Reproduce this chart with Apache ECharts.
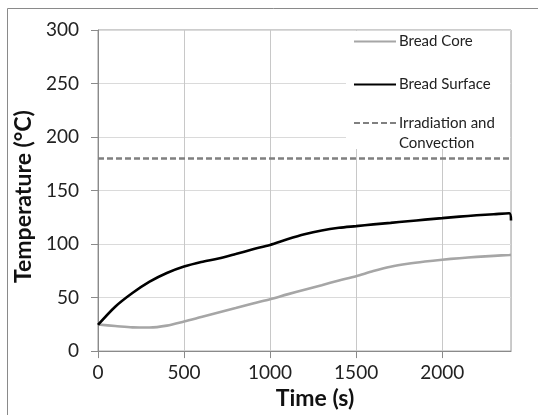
<!DOCTYPE html>
<html>
<head>
<meta charset="utf-8">
<script src="https://cdn.jsdelivr.net/npm/echarts@6/dist/echarts.min.js"></script>
<style>
  html, body { margin: 0; padding: 0; background: #fff; }
  #chart { width: 538px; height: 415px; }
</style>
</head>
<body>
<div id="chart"></div>
<script>
// time (s)
const timeS = [0, 100, 200, 300, 400, 500, 600, 700, 800, 900, 1000, 1100, 1200,
  1300, 1400, 1500, 1600, 1700, 1800, 1900, 2000, 2100, 2200, 2300, 2390, 2400];
// temperatures (°C)
const breadCore = [24.8, 23.5, 22.2, 22.0, 23.8, 27.6, 31.8, 36.0, 40.2, 44.5, 48.5, 53.0, 57.3,
  61.6, 65.9, 70.0, 74.8, 78.8, 81.6, 83.7, 85.4, 86.8, 88.0, 89.0, 89.8, 89.9];
const breadSurface = [24.5, 41.5, 54.3, 64.9, 73.0, 79.0, 83.3, 86.5, 90.7, 95.1, 99.2, 104.4, 109.1,
  112.7, 115.2, 116.8, 118.4, 119.8, 121.3, 122.8, 124.2, 125.6, 126.9, 127.9, 128.8, 122.0];
const ovenTime = [0, 2400];
const ovenTemp = [180, 180];

const names = ['Bread Core', 'Bread Surface', 'Irradiation and Convection'];

const pairs = (xs, ys) => xs.map((x, i) => [x, ys[i]]);

const font = 'Lato, "Open Sans", sans-serif';
const chart = echarts.init(document.getElementById('chart'));

// one legend per entry so each row sits where the original has it
const legendBase = {
  orient: 'vertical',
  left: 353,
  itemWidth: 42,
  itemHeight: 12,
  itemGap: 0,
  padding: 0,
  itemStyle: { opacity: 0 },
  textStyle: { fontFamily: font, fontSize: 15, color: '#222', padding: [0, 0, 0, -2] }
};

chart.setOption({
  animation: false,
  backgroundColor: '#fff',
  grid: { left: 98, right: 27, top: 30, bottom: 57, show: true, borderColor: '#9a9a9a', borderWidth: 1 },
  graphic: [
    {
      type: 'rect', z: 0, silent: true,
      shape: { x: 7.5, y: 8.5, width: 540, height: 420 },
      style: { fill: null, stroke: '#8a8a8a', lineWidth: 1 }
    },
    {
      type: 'rect', z: 3, silent: true,
      shape: { x: 346, y: 31, width: 164, height: 118 },
      style: { fill: '#fff' }
    }
  ],
  legend: [
    Object.assign({}, legendBase, { top: 34, data: [names[0]] }),
    Object.assign({}, legendBase, { top: 77, data: [names[1]] }),
    Object.assign({}, legendBase, {
      top: 93, data: [names[2]],
      formatter: () => '\nIrradiation and\nConvection',
      textStyle: Object.assign({}, legendBase.textStyle, { lineHeight: 20 })
    })
  ],
  xAxis: {
    type: 'value',
    min: 0,
    max: 2400,
    interval: 500,
    name: 'Time (s)',
    nameLocation: 'middle',
    nameGap: 28,
    nameTextStyle: { fontFamily: font, fontSize: 23, fontWeight: 'bold', color: '#111', padding: [0, 0, 0, 21] },
    axisLine: { lineStyle: { color: '#8a8a8a' } },
    axisTick: { show: true, length: 7, lineStyle: { color: '#8a8a8a' } },
    axisLabel: { fontFamily: font, fontSize: 19, color: '#222', margin: 12, showMaxLabel: false, formatter: v => String(v) },
    splitLine: { show: true, lineStyle: { color: '#c8c8c8' } }
  },
  yAxis: {
    type: 'value',
    min: 0,
    max: 300,
    interval: 50,
    name: 'Temperature (°C)',
    nameLocation: 'middle',
    nameGap: 55,
    nameTextStyle: { fontFamily: font, fontSize: 23, fontWeight: 'bold', color: '#111', padding: [0, 12, 0, 0] },
    axisLine: { show: true, lineStyle: { color: '#8a8a8a' } },
    axisTick: { show: true, length: 7, lineStyle: { color: '#8a8a8a' } },
    axisLabel: { fontFamily: font, fontSize: 19, color: '#222', margin: 19 },
    splitLine: { show: true, lineStyle: { color: '#dadada' } }
  },
  series: [
    {
      name: names[0], type: 'line', symbol: 'none', smooth: 0.3, z: 5,
      lineStyle: { color: '#a6a6a6', width: 2.6 }, itemStyle: { color: '#a6a6a6' },
      data: pairs(timeS, breadCore)
    },
    {
      name: names[1], type: 'line', symbol: 'none', smooth: 0.3, z: 5,
      lineStyle: { color: '#000', width: 2.6 }, itemStyle: { color: '#000' },
      data: pairs(timeS, breadSurface)
    },
    {
      name: names[2], type: 'line', symbol: 'none', z: 5,
      lineStyle: { color: '#808080', width: 2.6, type: [6, 3] }, itemStyle: { color: '#808080' },
      data: pairs(ovenTime, ovenTemp)
    }
  ]
});
</script>
</body>
</html>
